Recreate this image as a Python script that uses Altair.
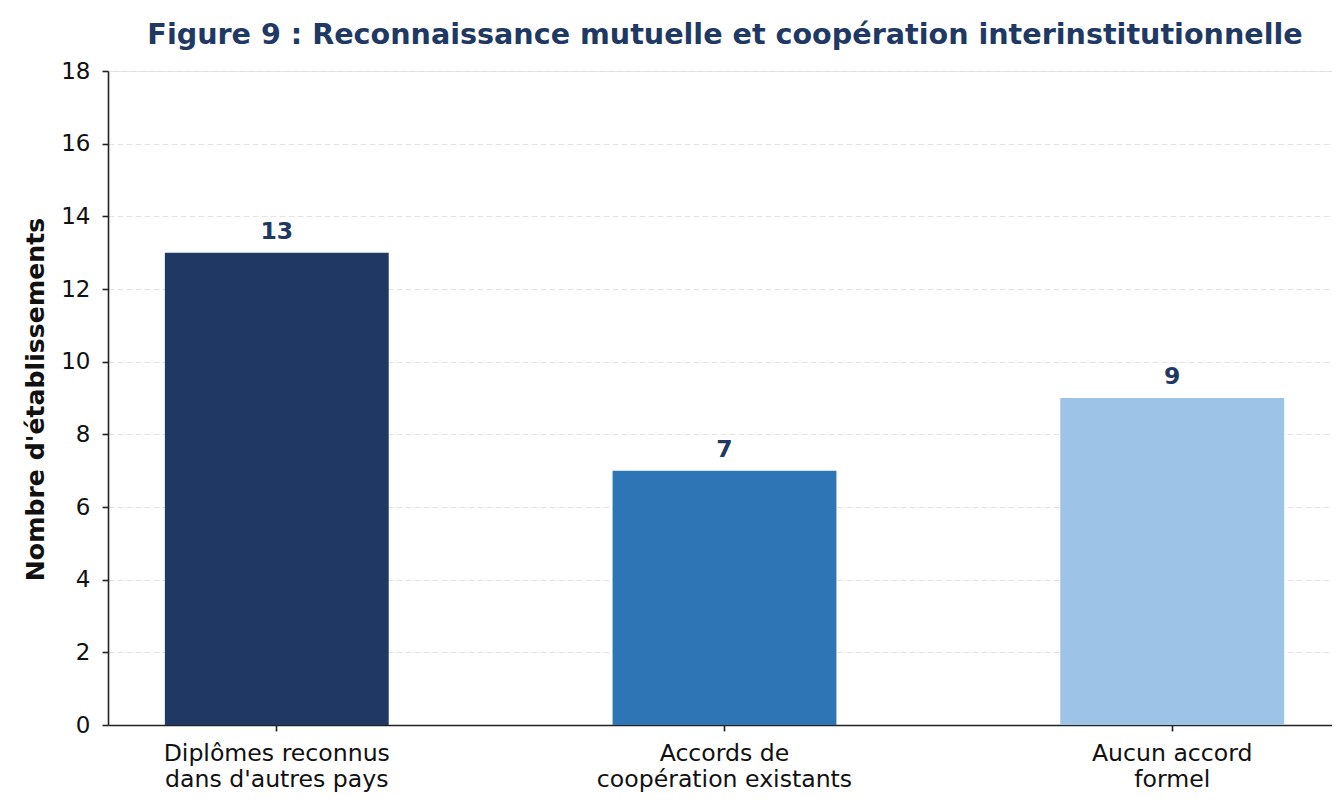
import altair as alt
import pandas as pd

categories = ["Diplômes reconnus\ndans d'autres pays", "Accords de\ncoopération existants", "Aucun accord\nformel"]
values = [13, 7, 9]
colors = ["#203864", "#2e75b6", "#9dc3e6"]
y_ticks = [0, 2, 4, 6, 8, 10, 12, 14, 16, 18]

df = pd.DataFrame({"cat": categories, "val": values, "color": colors})

FONT = "DejaVu Sans"

x_enc = alt.X("cat:N", sort=categories,
              scale=alt.Scale(paddingInner=0.5, paddingOuter=0.127, range=[0, 1233]),
              axis=alt.Axis(title=None, labelAngle=0, labelExpr="split(datum.label, '\\n')",
                            labelFont=FONT, labelFontSize=23.6, labelColor="#111111",
                            labelLineHeight=26, labelPadding=10, labelBaseline="top",
                            labelLimit=0,
                            tickSize=6, tickWidth=1.6, tickColor="#222222",
                            domainColor="#222222", domainWidth=1.6, grid=False))

base = alt.Chart(df)

bars = base.mark_bar().encode(
    x=x_enc,
    y=alt.Y("val:Q", scale=alt.Scale(domain=[0, 18], nice=False),
            axis=alt.Axis(values=y_ticks, title="Nombre d'établissements",
                          titleFont=FONT, titleFontSize=25.2, titleFontWeight="bold",
                          titleColor="#111111", titleAngle=-90, titleX=-73, titleY=328,
                          titleAlign="center", titleBaseline="middle",
                          labelFont=FONT, labelFontSize=23, labelColor="#111111",
                          labelPadding=12, tickSize=6, tickWidth=1.6, tickColor="#222222",
                          domainColor="#222222", domainWidth=1.6,
                          grid=True, gridColor="#e3e3e3", gridDash=[6, 3], gridWidth=1.2)),
    color=alt.Color("color:N", scale=None),
)

labels = base.mark_text(font=FONT, fontSize=23.5, fontWeight="bold", color="#203864",
                        baseline="alphabetic", dy=-14).encode(
    x=alt.X("cat:N", sort=categories),
    y=alt.Y("val:Q"),
    text=alt.Text("val:Q"),
)

chart = (bars + labels).properties(
    width=1224,
    height=654,
    title=alt.TitleParams(
        "Figure 9 : Reconnaissance mutuelle et coopération interinstitutionnelle",
        font=FONT, fontSize=28.6, fontWeight="bold", color="#203864",
        anchor="middle", baseline="alphabetic", offset=-13, dx=5,
    ),
    autosize=alt.AutoSizeParams(type="none"),
    padding={"left": 100, "top": 63, "right": 0, "bottom": 69},
).configure_view(stroke=None).configure(background="white")

chart.save("out.html", embed_options={"renderer": "svg", "actions": False})
